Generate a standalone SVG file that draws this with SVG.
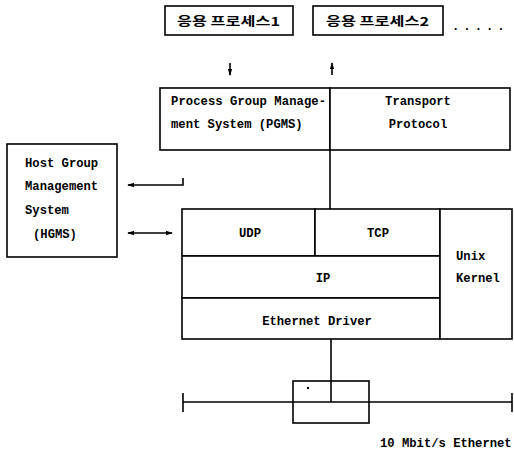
<svg xmlns="http://www.w3.org/2000/svg" width="514" height="451" viewBox="0 0 514 451">
<defs>
<style>
.b{fill:#fff;stroke:#000;stroke-width:1.6}
.l{fill:none;stroke:#000;stroke-width:1.6}
.t{font-family:"Liberation Mono","Noto Sans CJK KR",monospace;font-size:12.2px;font-weight:bold;fill:#000}
.k{font-family:"Noto Sans CJK KR","Liberation Mono",sans-serif;font-size:12px;font-weight:bold;fill:#000}
.m{text-anchor:middle}
</style>
<marker id="ah" viewBox="0 0 8 8" refX="7" refY="4" markerWidth="7" markerHeight="7" orient="auto-start-reverse" markerUnits="userSpaceOnUse">
<path d="M0,1.5 L8,4 L0,6.5 Z" fill="#000"/>
</marker>
</defs>
<rect width="514" height="451" fill="#fff"/>
<g id="app1">
<rect class="b" x="165" y="6" width="128" height="29"/>
<text class="k" x="177" y="26" textLength="103" lengthAdjust="spacingAndGlyphs">응용 프로세스1</text>
</g>
<g id="app2">
<rect class="b" x="313" y="6" width="130" height="29"/>
<text class="k" x="326" y="26" textLength="103" lengthAdjust="spacingAndGlyphs">응용 프로세스2</text>
</g>
<g id="dots">
<text class="t" x="452" y="30" letter-spacing="4">.....</text>
</g>
<g id="pgms">
<rect class="b" x="160" y="88" width="170" height="62"/>
<text class="t" x="171" y="105" textLength="155">Process Group Manage-</text>
<text class="t" x="171" y="128">ment System (PGMS)</text>
</g>
<g id="transport">
<rect class="b" x="330" y="88" width="180" height="62"/>
<text class="t m" x="418" y="105">Transport</text>
<text class="t m" x="418" y="128">Protocol</text>
</g>
<g id="hgms">
<rect class="b" x="7" y="144" width="110" height="113"/>
<text class="t" x="25" y="167">Host Group</text>
<text class="t" x="25" y="190">Management</text>
<text class="t" x="25" y="214">System</text>
<text class="t" x="33" y="238">(HGMS)</text>
</g>
<g id="udp">
<rect class="b" x="182" y="209" width="133" height="47"/>
<text class="t m" x="250" y="237">UDP</text>
</g>
<g id="tcp">
<rect class="b" x="315" y="209" width="125" height="47"/>
<text class="t m" x="378" y="237">TCP</text>
</g>
<g id="ip">
<rect class="b" x="182" y="256" width="258" height="42"/>
<text class="t m" x="323" y="282">IP</text>
</g>
<g id="ethdrv">
<rect class="b" x="182" y="298" width="258" height="41"/>
<text class="t m" x="317" y="325">Ethernet Driver</text>
</g>
<g id="unix">
<rect class="b" x="440" y="209" width="72" height="130"/>
<text class="t" x="456" y="260">Unix</text>
<text class="t" x="456" y="282">Kernel</text>
</g>
<g id="transceiver">
<rect class="l" x="293" y="381" width="76" height="42"/>
<circle cx="308" cy="388" r="1.2" fill="#000"/>
</g>
<g id="ethernet">
<line class="l" x1="183" y1="402" x2="512" y2="402"/>
<line class="l" x1="183" y1="393" x2="183" y2="412"/>
<line class="l" x1="512" y1="393" x2="512" y2="412"/>
<text class="t" x="380" y="447">10 Mbit/s Ethernet</text>
</g>
<g id="connectors">
<line class="l" x1="230" y1="63" x2="230" y2="75" marker-end="url(#ah)"/>
<line class="l" x1="332" y1="75" x2="332" y2="63" marker-end="url(#ah)"/>
<line class="l" x1="330" y1="150" x2="330" y2="209"/>
<polyline class="l" points="183,178 183,185 128,185" marker-end="url(#ah)"/>
<line class="l" x1="128" y1="233" x2="172" y2="233" marker-start="url(#ah)" marker-end="url(#ah)"/>
<line class="l" x1="331" y1="339" x2="331" y2="402"/>
</g>
</svg>
